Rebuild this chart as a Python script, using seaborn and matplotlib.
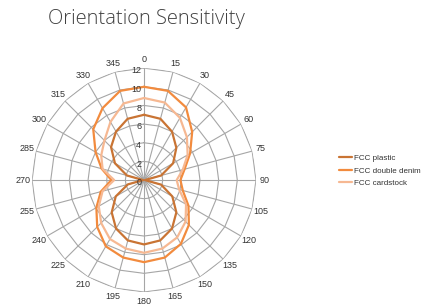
import matplotlib
matplotlib.use("Agg")
import matplotlib.pyplot as plt
import numpy as np
import pandas as pd
import seaborn as sns

# angles in degrees, clockwise from top
angles = list(range(0, 360, 15))

fcc_plastic = [7.0, 6.8, 6.0, 4.9, 3.6, 1.9, 0.1, 1.9, 3.5, 4.9, 6.0, 6.7,
               6.9, 6.7, 6.0, 4.9, 3.5, 1.8, 0.1, 1.9, 3.6, 5.0, 6.0, 6.8]
fcc_double_denim = [10.0, 9.9, 9.0, 7.3, 5.7, 4.5, 3.9, 4.3, 5.5, 6.8, 7.9, 8.6,
                    8.8, 8.6, 8.2, 7.1, 5.9, 4.8, 3.5, 4.7, 6.0, 7.7, 8.9, 9.9]
fcc_cardstock = [8.8, 8.6, 7.7, 6.5, 5.4, 4.3, 3.5, 3.9, 5.2, 6.3, 7.1, 7.6,
                 7.8, 7.6, 7.3, 6.5, 5.6, 4.6, 3.2, 4.6, 5.3, 6.0, 7.2, 8.5]

series_names = ["FCC plastic", "FCC double denim", "FCC cardstock"]
series_values = [fcc_plastic, fcc_double_denim, fcc_cardstock]
colors = ["#c97434", "#f28b3e", "#f6b892"]
r_ticks = [0, 2, 4, 6, 8, 10, 12]

sns.set_style("white")
plt.rcParams["font.family"] = ["Liberation Sans", "DejaVu Sans"]

# long table, closing each loop by repeating the first point at 360
rows = []
for name, vals in zip(series_names, series_values):
    for a, v in zip(angles + [360], vals + [vals[0]]):
        rows.append({"theta": np.deg2rad(a), "r": v, "series": name})
df = pd.DataFrame(rows)

fig = plt.figure(figsize=(4.22, 3.05), dpi=100)
ax = fig.add_axes([0.0758, 0.0426, 0.531, 0.734], projection="polar")
ax.set_theta_zero_location("N")
ax.set_theta_direction(-1)
ax.set_ylim(0, 12)
ax.grid(False)
ax.spines["polar"].set_visible(False)

# polygonal gridlines like a spreadsheet radar chart
grid_theta = np.deg2rad(angles + [360])
for r in r_ticks[1:]:
    ax.plot(grid_theta, [r] * len(grid_theta), color="#a6a6a6", lw=0.8, zorder=1)
for a in angles:
    ax.plot([np.deg2rad(a)] * 2, [0, 12], color="#a6a6a6", lw=0.8, zorder=1)

sns.lineplot(data=df, x="theta", y="r", hue="series", hue_order=series_names,
             palette=colors, sort=False, estimator=None, lw=1.6, ax=ax,
             zorder=3)

ax.set_xlabel("")
ax.set_ylabel("")
ax.set_xticks(np.deg2rad(angles))
ax.set_xticklabels([str(a) for a in angles], fontsize=6.5, color="#333333")
ax.tick_params(axis="x", pad=-4)
ax.set_yticks([])

for r in r_ticks:
    ax.annotate(str(r), xy=(0, r), xytext=(-2, -2), textcoords="offset points",
                ha="right", va="center", fontsize=6.5, color="#333333")

handles, labels = ax.get_legend_handles_labels()
ax.get_legend().remove()
fig.legend(handles, labels, loc="center left", bbox_to_anchor=(0.785, 0.44),
           frameon=False, fontsize=5.8, handlelength=1.7, handletextpad=0.2,
           labelspacing=0.6, labelcolor="#333333")

fig.text(0.347, 0.937, "Orientation Sensitivity", ha="center", va="center",
         fontsize=14.5, color="#404040", family="Open Sans", weight="light")

fig.savefig("out.png", dpi=100, facecolor="white")
